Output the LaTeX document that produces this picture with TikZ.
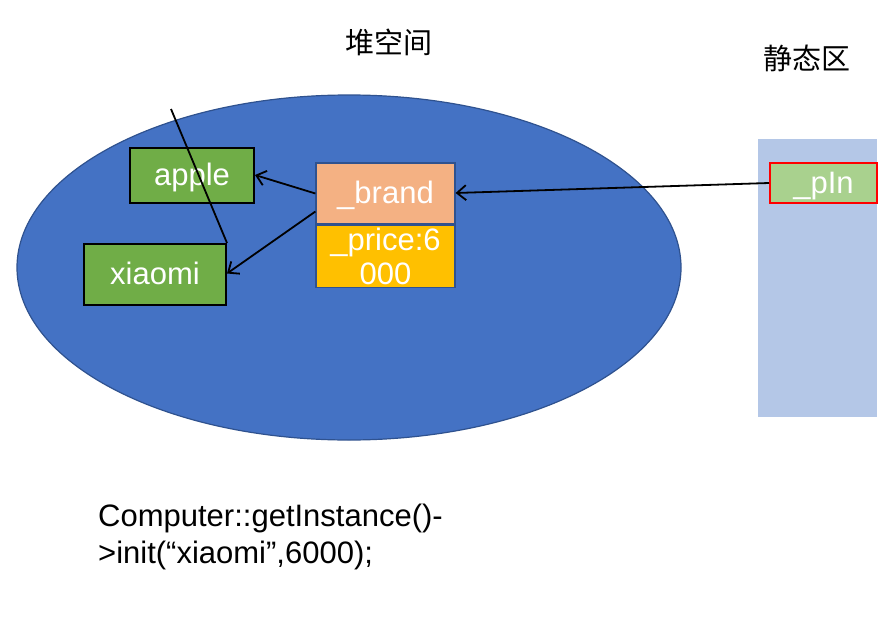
\documentclass[tikz,border=0pt]{standalone}
\usepackage{fontspec}
\setmainfont{Liberation Sans}
\newfontfamily\cjk{Noto Sans CJK SC}
\usepackage{tikz}
\usetikzlibrary{arrows.meta}
\usetikzlibrary{positioning}

\definecolor{heapblue}{HTML}{4472C4}
\definecolor{heapedge}{HTML}{2F528F}
\definecolor{objgreen}{HTML}{70AD47}
\definecolor{brandfill}{HTML}{F4B183}
\definecolor{pricefill}{HTML}{FFC000}
\definecolor{staticfill}{HTML}{B4C7E7}
\definecolor{pinfill}{HTML}{A9D18E}

\tikzset{
    strbox/.style={draw=black, line width=2pt, fill=objgreen, text=white,
        inner sep=0pt, text height=27pt, text depth=7pt,
        font=\fontsize{31}{35}\selectfont},
    field/.style={draw=heapedge, line width=1.2pt, text=white, inner sep=0pt,
        minimum width=139pt, font=\fontsize{31}{35}\selectfont},
    ptr/.style={-{Straight Barb[length=9pt,width=15pt]}, line width=1.8pt},
    caption/.style={font=\cjk\fontsize{29}{34}\selectfont}
}

\begin{document}
\begin{tikzpicture}[x=1pt,y=-1pt]
            \useasboundingbox (0,0) rectangle (893,623);
            % heap and static area
            \draw[fill=heapblue, draw=heapedge, line width=1.2pt] (349,267.5) ellipse (332 and 172.5);
            \fill[staticfill] (758,139) rectangle (877,417);
            \node[caption] (heap) at (389,42) {堆空间};
            \node[caption] (static) at (807,58) {静态区};
            % objects
            \node[strbox, minimum width=124pt, minimum height=55pt] (apple) at (192,175) {apple};
            \node[strbox, minimum width=142pt, minimum height=61pt] (xiaomi) at (155,274.5) {xiaomi};
            \node[field, fill=brandfill, minimum height=61pt, text height=27pt, text depth=7pt]
                  (brand) at (385.5,193.5) {\_brand};
            \node[field, fill=pricefill, minimum height=62pt, align=center,
                  below=0pt of brand] (price) {\_price:6\\[-1pt]000};
            \node[draw=red, line width=2pt, fill=pinfill, text=white, inner sep=0pt,
                  minimum width=107pt, minimum height=40pt, text height=27pt, text depth=7pt,
                  font=\fontsize{31}{35}\selectfont] (pin) at (823.5,183) {\_pIn};
            % pointers
            \coordinate (cut) at (171,109);
            \draw[line width=1.8pt] (cut) -- (xiaomi.north east);
            \draw[ptr] (brand.west) -- (apple.east);
            \draw[ptr] ([yshift=-18pt]brand.west) -- ([yshift=1pt]xiaomi.east);
            \draw[ptr] (pin.west) -- ([yshift=0.5pt]brand.east);
            % code
            \node[anchor=west, align=left, inner sep=0pt,
                  font=\fontsize{31}{37}\selectfont] (code) at (98,537)
                  {Computer::getInstance()-\\>init(“xiaomi”,6000);};
        \end{tikzpicture}
\end{document}
